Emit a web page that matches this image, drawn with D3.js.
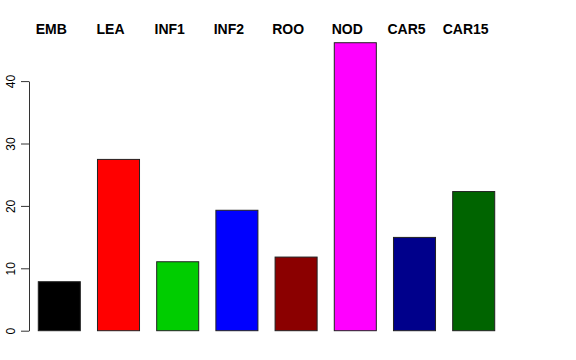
<!DOCTYPE html>
<html>
<head>
<meta charset="utf-8">
<script src="https://cdn.jsdelivr.net/npm/d3@7"></script>
<style>
  body { margin: 0; background: #fff; }
  svg { display: block; font-family: "Liberation Sans", Arial, sans-serif; }
</style>
</head>
<body>
<svg id="chart" width="576" height="360"></svg>
<script>
// data
const categories = ['EMB', 'LEA', 'INF1', 'INF2', 'ROO', 'NOD', 'CAR5', 'CAR15'];
const values = [7.85, 27.45, 11.05, 19.3, 11.8, 46.15, 14.95, 22.3];
const colors = ['#000000', '#ff0000', '#00cd00', '#0000ff', '#8b0000', '#ff00ff', '#00008b', '#006400'];
const yTicks = [0, 10, 20, 30, 40];

const svg = d3.select('#chart');

const x = d3.scaleBand()
    .domain(categories)
    .range([29.7, 503.3])
    .paddingInner(0.29)
    .paddingOuter(0.145);

const y = d3.scaleLinear()
    .domain([0, 40])
    .range([330.7, 81.1]);

// bars
svg.append('g')
  .selectAll('rect')
  .data(categories)
  .enter().append('rect')
    .attr('x', d => x(d))
    .attr('width', x.bandwidth())
    .attr('y', (d, i) => y(values[i]))
    .attr('height', (d, i) => y(0) - y(values[i]))
    .attr('fill', (d, i) => colors[i])
    .attr('stroke', '#222')
    .attr('stroke-width', 1);

// y axis, R style
const yAxis = d3.axisLeft(y)
    .tickValues(yTicks)
    .tickSize(8)
    .tickSizeOuter(0)
    .tickPadding(0);

const ga = svg.append('g')
    .attr('transform', 'translate(29,0)')
    .call(yAxis);
ga.select('.domain').attr('stroke', '#333');
ga.selectAll('.tick line').attr('stroke', '#333');
ga.selectAll('.tick text')
    .attr('font-size', 12)
    .attr('fill', '#000')
    .attr('text-anchor', 'middle')
    .attr('x', null)
    .attr('dy', null)
    .attr('transform', 'translate(-14.5,0) rotate(-90)');

// category labels on top
svg.append('g')
  .selectAll('text')
  .data(categories)
  .enter().append('text')
    .attr('x', d => x(d) + x.bandwidth() / 2 - 8)
    .attr('y', 34)
    .attr('text-anchor', 'middle')
    .attr('font-size', 14)
    .attr('font-weight', 'bold')
    .text(d => d);
</script>
</body>
</html>
